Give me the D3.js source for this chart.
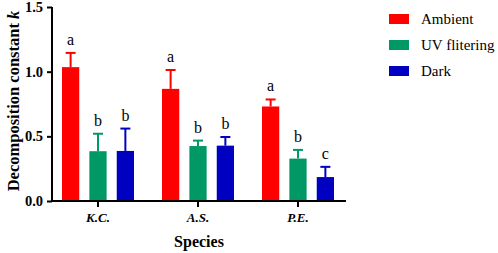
<!DOCTYPE html>
<html>
<head>
<meta charset="utf-8">
<script src="https://cdn.jsdelivr.net/npm/d3@7"></script>
<style>
  body { margin:0; background:#fff; }
  svg text { font-family:"Liberation Serif","Times New Roman",serif; }
</style>
</head>
<body>
<script>
/* k by species and treatment, with SE-style upper error */
const SPECIES  = ["K.C.","A.S.","P.E."];
const TREATS   = ["Ambient","UV flitering","Dark"];
const COLORS   = ["#ff0000","#009966","#0000c0"];
const MEANS    = [[1.035,0.385,0.387],[0.867,0.425,0.428],[0.731,0.328,0.185]];
const ERRS     = [[0.11,0.135,0.173],[0.146,0.042,0.067],[0.054,0.067,0.079]];
const LETTERS  = [["a","b","b"],["a","b","b"],["a","b","c"]];
const Y_TICKS  = [0,0.5,1.0,1.5];

const W = 498, H = 253;
const svg = d3.select("body").append("svg").attr("width",W).attr("height",H)
  .attr("font-family","Liberation Serif");

const y = d3.scaleLinear().domain([0,1.5]).range([201,7]);
const x = d3.scaleBand().domain(SPECIES).range([48,348]).padding(0);
const xs = d3.scaleBand().domain(TREATS).range([-36,36]).paddingInner(0.37).paddingOuter(0);

/* bars */
const g = svg.append("g");
SPECIES.forEach((sp,i)=>{
  const cx = x(sp) + x.bandwidth()/2;
  TREATS.forEach((t,j)=>{
    const v = MEANS[i][j], e = ERRS[i][j], c = COLORS[j];
    const bx = cx + xs(t), bw = xs.bandwidth(), mx = bx + bw/2;
    g.append("line").attr("x1",mx).attr("x2",mx)
      .attr("y1",y(v)).attr("y2",y(v+e)).attr("stroke",c).attr("stroke-width",2);
    g.append("line").attr("x1",mx-5).attr("x2",mx+5)
      .attr("y1",y(v+e)).attr("y2",y(v+e)).attr("stroke",c).attr("stroke-width",2);
    g.append("rect").attr("x",bx).attr("y",y(v)).attr("width",bw)
      .attr("height",y(0)-y(v)).attr("fill",c);
    g.append("text").attr("x",mx).attr("y",y(v+e)-8)
      .attr("text-anchor","middle").style("font-size","16px").text(LETTERS[i][j]);
  });
});

/* y axis */
const ya = svg.append("g").attr("transform","translate(52,0)")
  .call(d3.axisLeft(y).tickValues(Y_TICKS).tickFormat(d3.format(".1f")).tickSize(5));
ya.select(".domain").attr("stroke","#000").attr("stroke-width",2).attr("d","M0,7V201");
ya.selectAll(".tick line").attr("stroke-width",2);
ya.selectAll("text").style("font-size","14.5px").style("font-weight","bold")
  .style("font-family","Liberation Serif").attr("dx","-1");

/* x axis */
const xa = svg.append("g").attr("transform","translate(0,201)")
  .call(d3.axisBottom(x).tickSize(6).tickPadding(6));
xa.select(".domain").attr("stroke-width",2).attr("d","M51,0H346");
xa.selectAll(".tick line").attr("stroke-width",2);
xa.selectAll("text").style("font-size","13px").style("font-weight","bold")
  .style("font-style","italic").style("font-family","Liberation Serif");

/* titles */
svg.append("text").attr("x",199).attr("y",247).attr("text-anchor","middle")
  .style("font-size","16px").style("font-weight","bold").text("Species");
const yt = svg.append("text").attr("transform","translate(19,101) rotate(-90)")
  .attr("text-anchor","middle").style("font-size","16.5px").style("font-weight","bold");
yt.append("tspan").text("Decomposition constant ");
yt.append("tspan").style("font-style","italic").text("k");

/* legend */
const lg = svg.append("g");
TREATS.forEach((t,j)=>{
  lg.append("rect").attr("x",389).attr("y",14+j*26).attr("width",20).attr("height",10)
    .attr("fill",COLORS[j]);
  lg.append("text").attr("x",421).attr("y",24+j*26).style("font-size","15px").text(t);
});
</script>
</body>
</html>
